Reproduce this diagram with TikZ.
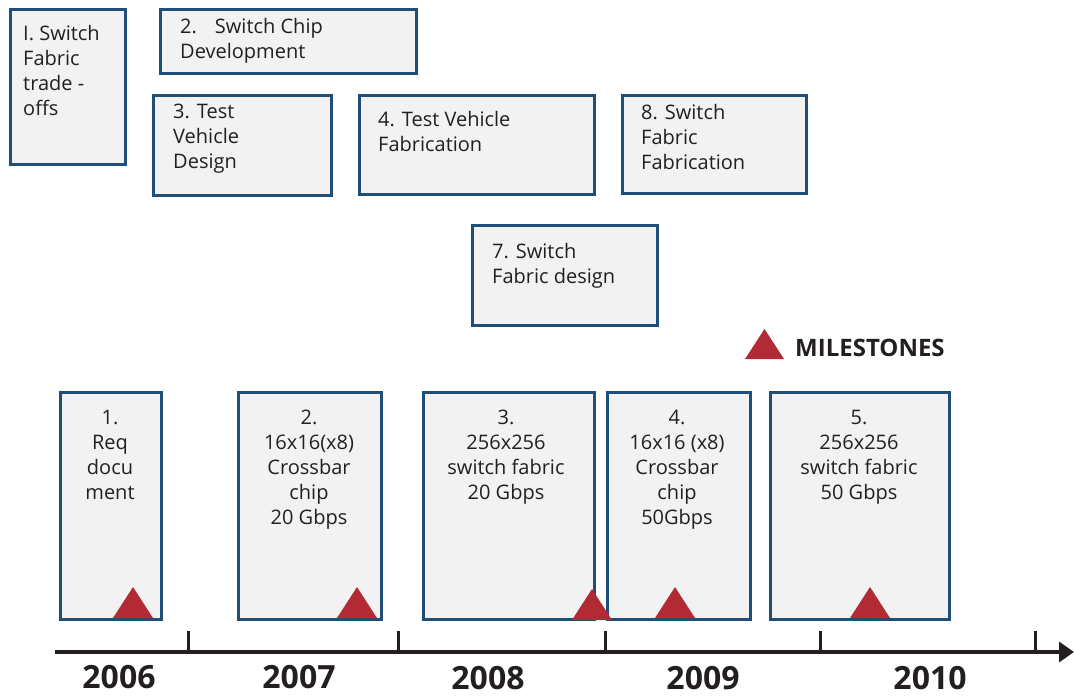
\documentclass[tikz,border=0pt]{standalone}
\usepackage{fontspec}
\setmainfont{Open Sans}
\usetikzlibrary{arrows.meta}
\definecolor{boxblue}{RGB}{31,78,121}
\definecolor{boxfill}{RGB}{242,242,242}
\definecolor{msred}{RGB}{178,42,51}
\definecolor{txt}{RGB}{35,31,32}
\begin{document}
\begin{tikzpicture}[x=1pt,y=-1pt,
  box/.style={draw=boxblue, fill=boxfill, line width=2.8pt, anchor=north west, inner sep=0pt},
  lbl/.style={font=\fontsize{20}{25}\selectfont, text=txt, inner sep=0pt, anchor=north west, align=left},
  clbl/.style={font=\fontsize{20}{25}\selectfont, text=txt, inner sep=0pt, anchor=north, align=center},
  yr/.style={font=\fontsize{32}{36}\selectfont\bfseries, text=txt, anchor=base, inner sep=0pt},
  ms/.style={fill=msred},
  axisline/.style={line width=3.5pt, draw=txt},
  tick/.style={line width=3pt, draw=txt}]
\useasboundingbox (0,0) rectangle (1075,696);

% top boxes
\node[box, minimum width=115pt, minimum height=155pt] (t1) at (9,8) {};
\node[box, minimum width=256pt, minimum height=64pt] (t2) at (159,8) {};
\node[box, minimum width=178pt, minimum height=100pt] (t3) at (152,94) {};
\node[box, minimum width=235pt, minimum height=99pt] (t4) at (358,94) {};
\node[box, minimum width=184pt, minimum height=98pt] (t8) at (621,94) {};
\node[box, minimum width=185pt, minimum height=100pt] (t7) at (471,224) {};

\node[lbl] (t1l) at (23,25) {I. Switch\\Fabric\\trade -\\offs};
\node[lbl] (t2l) at (180,18) {2.\hspace{0.9em}Switch Chip\\Development};
\node[lbl] (t3l) at (173,104) {3. Test\\Vehicle\\Design};
\node[lbl] (t4l) at (378,111) {4. Test Vehicle\\Fabrication};
\node[lbl] (t8l) at (641,104) {8. Switch\\Fabric\\Fabrication};
\node[lbl] (t7l) at (492,243) {7. Switch\\Fabric design};

% legend
\fill[ms] (745,359) -- (764.5,329) -- (784,359) -- cycle;
\node[font=\fontsize{24}{28}\selectfont\bfseries, text=txt, anchor=base west, inner sep=0pt] (leg) at (795,356) {MILESTONES};

% bottom boxes
\node[box, minimum width=101pt, minimum height=227pt] (b1) at (59,391) {};
\node[box, minimum width=143pt, minimum height=227pt] (b2) at (237,391) {};
\node[box, minimum width=171pt, minimum height=227pt] (b3) at (422,391) {};
\node[box, minimum width=143pt, minimum height=227pt] (b4) at (606,391) {};
\node[box, minimum width=179pt, minimum height=227pt] (b5) at (769,391) {};

\node[clbl] (b1l) at (110,410) {1.\\Req\\docu\\ment};
\node[clbl] (b2l) at (309,410) {2.\\16x16(x8)\\Crossbar\\chip\\20 Gbps};
\node[clbl] (b3l) at (506,410) {3.\\256x256\\switch fabric\\20 Gbps};
\node[clbl] (b4l) at (677,410) {4.\\16x16 (x8)\\Crossbar\\chip\\50Gbps};
\node[clbl] (b5l) at (859,410) {5.\\256x256\\switch fabric\\50 Gbps};

% milestone triangles
\fill[ms] (113,618) -- (133,587) -- (153,618) -- cycle;
\fill[ms] (337,618) -- (357,587) -- (377,618) -- cycle;
\fill[ms] (572,620) -- (592,589) -- (612,620) -- cycle;
\fill[ms] (655,618) -- (675,587) -- (695,618) -- cycle;
\fill[ms] (850,618) -- (870,587) -- (890,618) -- cycle;

% axis
\coordinate (axL) at (55,652);
\coordinate (axR) at (1074,652);
\draw[axisline, -{Triangle[length=15pt,width=20pt]}] (axL) -- (axR);
\foreach \x in {188,398,605,820,1035}
  \draw[tick] (\x,652) -- (\x,631);

% years
\node[yr] (y6) at (119,688) {2006};
\node[yr] (y7) at (299,688) {2007};
\node[yr] (y8) at (488,689) {2008};
\node[yr] (y9) at (703,689) {2009};
\node[yr] (y10) at (930,689) {2010};
\end{tikzpicture}
\end{document}
